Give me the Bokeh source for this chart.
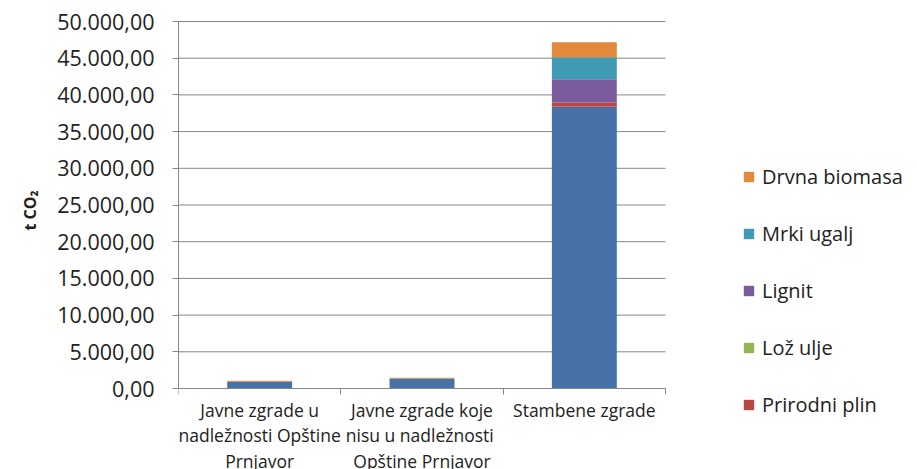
from bokeh.plotting import figure
from bokeh.models import (ColumnDataSource, Legend, LegendItem, FixedTicker,
                          CustomJSTickFormatter, Title)
from bokeh.embed import file_html
from bokeh.resources import INLINE

# ---------------- data ----------------
categories = ["Javne zgrade u\nnadležnosti Opštine\nPrnjavor",
              "Javne zgrade koje\nnisu  u nadležnosti\nOpštine Prnjavor",
              "Stambene zgrade"]
elektricna = [950, 1350, 38400]
prirodni_plin = [0, 0, 550]
loz_ulje = [0, 0, 20]
lignit = [0, 0, 3150]
mrki_ugalj = [0, 0, 3000]
drvna_biomasa = [120, 100, 2050]

series = ["elektricna", "prirodni_plin", "loz_ulje", "lignit", "mrki_ugalj", "drvna_biomasa"]
legend_labels = {"prirodni_plin": "Prirodni plin", "loz_ulje": "Lož ulje", "lignit": "Lignit",
                 "mrki_ugalj": "Mrki ugalj", "drvna_biomasa": "Drvna biomasa"}
colors = ["#4672A8", "#BB4745", "#93B653", "#7A5C9C", "#3F9AB3", "#E2893C"]
y_ticks = [0, 5000, 10000, 15000, 20000, 25000, 30000, 35000, 40000, 45000, 50000]
y_max = 50000
y_title = "t CO₂"

# ---------------- layout constants (pixels) ----------------
W, H = 917, 469
PLOT_LEFT, PLOT_RIGHT, PLOT_TOP, PLOT_BOTTOM = 178, 665, 21, 388
units_per_px = y_max / (PLOT_BOTTOM - PLOT_TOP)
ncat = len(categories)
x_end = ncat * (W - PLOT_LEFT) / (PLOT_RIGHT - PLOT_LEFT)
y_start = -(H - PLOT_BOTTOM) * units_per_px
y_end = y_max + 2 * units_per_px

xpos = [i + 0.5 for i in range(ncat)]
src = ColumnDataSource(dict(x=xpos, elektricna=elektricna, prirodni_plin=prirodni_plin,
                            loz_ulje=loz_ulje, lignit=lignit, mrki_ugalj=mrki_ugalj,
                            drvna_biomasa=drvna_biomasa))
grid_src = ColumnDataSource(dict(y=y_ticks, x0=[0] * len(y_ticks), x1=[ncat] * len(y_ticks)))

FONT = "Open Sans"
TXT = "#222222"
GRID = "#868686"
p = figure(width=W, height=H, output_backend="svg", toolbar_location=None,
           x_range=(0, x_end), y_range=(y_start, y_end),
           min_border_left=PLOT_LEFT, min_border_right=0, min_border_top=PLOT_TOP - 2,
           min_border_bottom=0)
p.outline_line_color = None
p.background_fill_color = "white"
p.xgrid.visible = False
p.ygrid.visible = False

# horizontal gridlines over the category area only
p.segment(x0="x0", x1="x1", y0="y", y1="y", source=grid_src, line_color=GRID,
          line_width=1, level="underlay")

rs = p.vbar_stack(series, x="x", width=0.4, source=src, color=colors, line_color=None)

# x axis at y=0, category boundaries as minor ticks, labels at centers
xa = p.xaxis[0]
xa.fixed_location = 0
xa.bounds = (0, ncat)
xa.ticker = FixedTicker(ticks=xpos, minor_ticks=list(range(ncat + 1)))
xa.major_label_overrides = {x: c for x, c in zip(xpos, categories)}
xa.major_tick_out = 0
xa.major_tick_in = 0
xa.minor_tick_out = 6
xa.minor_tick_in = 0
xa.axis_line_color = GRID
xa.minor_tick_line_color = GRID
xa.major_label_text_font = FONT
xa.major_label_text_font_size = "17.5px"
xa.major_label_text_line_height = 1.08
xa.major_label_text_color = TXT
xa.major_label_standoff = 3

ya = p.yaxis[0]
ya.bounds = (0, y_max)
ya.ticker = FixedTicker(ticks=y_ticks)
ya.formatter = CustomJSTickFormatter(code="""
const s = tick.toFixed(2);
const parts = s.split('.');
const ip = parts[0].replace(/\\B(?=(\\d{3})+(?!\\d))/g, '.');
return ip + ',' + parts[1];
""")
ya.axis_line_color = GRID
ya.major_tick_line_color = GRID
ya.major_tick_out = 6
ya.major_tick_in = 0
ya.minor_tick_line_color = None
ya.major_label_text_font = FONT
ya.major_label_text_font_size = "21.5px"
ya.major_label_text_color = TXT
ya.major_label_standoff = 18

# y axis title, positioned along the 0..50000 span rather than the whole frame
p.add_layout(Title(text=y_title, text_font=FONT, text_font_style="bold",
                   text_font_size="16px", text_color=TXT, align="left",
                   offset=H - 230, standoff=28), "left")

items = []
for name, r in zip(series, rs):
    if name in legend_labels:
        items.append(LegendItem(label=legend_labels[name], renderers=[r]))
items = items[::-1]
legend = Legend(items=items, location=(564, 51), orientation="vertical",
                glyph_width=13, glyph_height=13, spacing=30, padding=0, margin=0,
                label_standoff=7, label_text_font=FONT, label_text_font_size="20px",
                label_text_color=TXT, border_line_color=None,
                background_fill_alpha=0)
p.add_layout(legend, "center")

open("out.html", "w").write(file_html(p, INLINE))
